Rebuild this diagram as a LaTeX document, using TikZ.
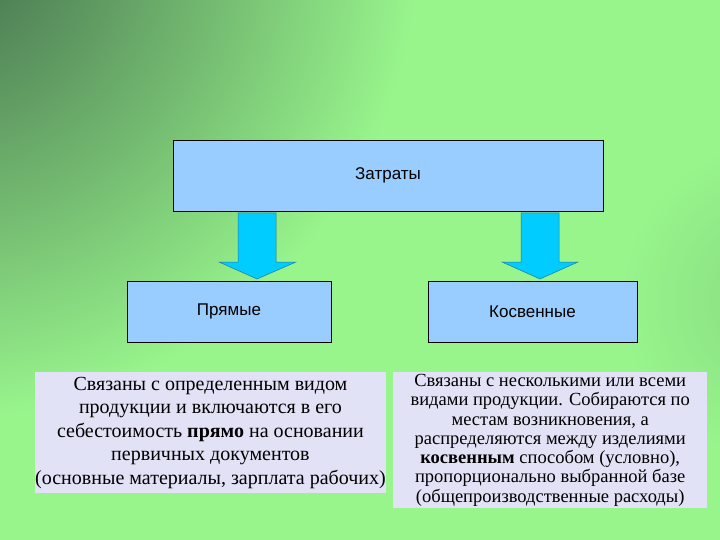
\documentclass[tikz,border=0pt]{standalone}
\usepackage{fontspec}
\setmainfont{Liberation Serif}
\newfontfamily\arialf{Liberation Sans}
\begin{document}
\begin{tikzpicture}[x=1pt,y=-1pt,
  hbox/.style={draw=black,fill=boxblue,line width=0.6pt,font=\arialf\fontsize{17}{20}\selectfont},
  tbox/.style={fill=lav,inner sep=0pt,align=center,font=\fontsize{20}{23.5}\selectfont},
  arr/.style={fill=arrcyan,draw=arrline,line width=0.5pt}]
\definecolor{boxblue}{RGB}{153,204,255}
\definecolor{lav}{RGB}{226,226,246}
\definecolor{arrcyan}{RGB}{0,204,255}
\definecolor{arrline}{RGB}{40,120,150}
\definecolor{bgdark}{RGB}{65,105,75}
\definecolor{bglight}{RGB}{152,245,140}
\useasboundingbox (0,0) rectangle (720,540);
\begin{scope}
\clip (0,0) rectangle (720,540);
\fill[bglight] (0,0) rectangle (720,540);
\shade[inner color=bgdark,outer color=bglight] (-60,-60) circle (480);
\shade[inner color=bglight!75!bgdark,outer color=bglight,opacity=0.7] (780,300) circle (160);
\end{scope}
\node[hbox,minimum width=430,minimum height=71] (top) at (388,175.5) {Затраты};
\node[hbox,minimum width=204,minimum height=61] (pr) at (229,311.5) {Прямые};
\node[hbox,minimum width=209,minimum height=61] (ko) at (532.5,311.5) {Косвенные};
\draw[arr] (238,213) -- (276,213) -- (276,262) -- (296,262) -- (257,279) -- (219,262) -- (238,262) -- cycle;
\draw[arr] (521,213) -- (559,213) -- (559,262) -- (578,262) -- (540,279) -- (502,262) -- (521,262) -- cycle;
\node[tbox,minimum width=350,minimum height=121,anchor=north west] (t1) at (35,372) {Связаны с определенным видом\\продукции и включаются в его\\себестоимость \textbf{прямо} на основании\\первичных документов\\(основные материалы, зарплата рабочих)};
\node[tbox,font=\fontsize{18.5}{19.3}\selectfont,minimum width=314,minimum height=136,anchor=north west] (t2) at (393,372) {Связаны с несколькими или всеми\\видами продукции. Собираются по\\местам возникновения, а\\распределяются между изделиями\\\textbf{косвенным} способом (условно),\\пропорционально выбранной базе\\(общепроизводственные расходы)};
\end{tikzpicture}
\end{document}
